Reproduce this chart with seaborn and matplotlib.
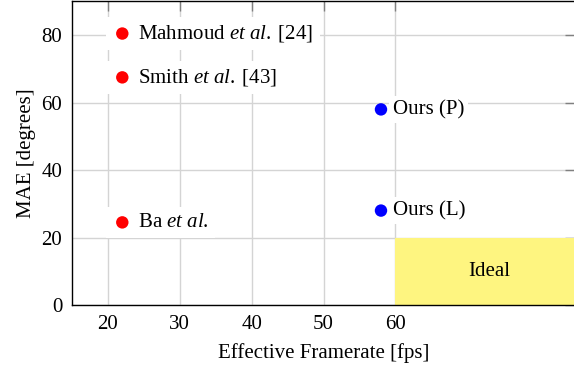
import matplotlib
matplotlib.use("Agg")
import matplotlib.pyplot as plt
import pandas as pd
import seaborn as sns

# Methods compared: effective framerate vs. mean angular error
methods = ["Mahmoud", "Smith", "Ba", "Ours (P)", "Ours (L)"]
labels = [
    r"     Mahmoud $\mathit{et\ al.}\;$[24]",
    r"     Smith $\mathit{et\ al.}\;$[43]",
    r"     Ba $\mathit{et\ al.}$",
    "Ours (P)",
    "Ours (L)",
]
framerate = [22, 22, 22, 58, 58]
mae = [80.5, 67.5, 24.5, 58, 28]
group = ["prior", "prior", "prior", "ours", "ours"]

# Target region
ideal_x = [60, 86]
ideal_y = [0, 20]

x_ticks = [20, 30, 40, 50, 60]
y_ticks = [0, 20, 40, 60, 80]

df = pd.DataFrame({"method": methods, "label": labels, "fps": framerate,
                   "mae": mae, "group": group})

sns.set_style("white")
plt.rcParams["font.family"] = ["Liberation Serif", "DejaVu Serif"]
plt.rcParams["mathtext.fontset"] = "custom"
plt.rcParams["mathtext.rm"] = "Liberation Serif"
plt.rcParams["mathtext.it"] = "Liberation Serif:italic"
plt.rcParams["text.color"] = "black"
plt.rcParams["axes.labelcolor"] = "black"
plt.rcParams["xtick.color"] = "black"
plt.rcParams["ytick.color"] = "black"

FS = 15

fig = plt.figure(figsize=(5.74, 3.72), dpi=100)
ax = fig.add_axes([72 / 574, 67 / 372, 503 / 574, 303.5 / 372])

ax.set_xlim(15, 85)
ax.set_ylim(0, 90)
ax.set_xticks(x_ticks)
ax.set_yticks(y_ticks)
ax.grid(True, color="#d4d4d4", linewidth=1.0, zorder=0)
ax.set_axisbelow(True)

# Ideal region
ax.fill_between(ideal_x, ideal_y[0], ideal_y[1], color="#fef580", zorder=1,
                linewidth=0)
ax.text((ideal_x[0] + ideal_x[1]) / 2, (ideal_y[0] + ideal_y[1]) / 2, "Ideal",
        ha="center", va="center", fontsize=FS, color="black", zorder=2)

sns.scatterplot(data=df, x="fps", y="mae", hue="group",
                palette={"prior": "#ff0000", "ours": "#0000ff"},
                s=80, edgecolor="none", legend=False, ax=ax, zorder=5)

for _, row in df.iterrows():
    if row["group"] == "prior":
        off, pad = -7.2, 0.3
    else:
        off, pad = 8.6, 0.2
    ax.annotate(row["label"], xy=(row["fps"], row["mae"]),
                xytext=(off, 0), textcoords="offset points",
                ha="left", va="center", fontsize=FS, color="black", zorder=4,
                bbox=dict(boxstyle=f"square,pad={pad}", fc="white", ec="none"))

ax.tick_params(axis="both", which="major", direction="in", length=7,
               width=1.0, color="#808080", labelsize=FS, labelcolor="black",
               top=True, right=True, pad=7)

for sp in ax.spines.values():
    sp.set_color("black")
    sp.set_linewidth(1.0)
    sp.set_zorder(6)

ax.set_xlabel("Effective Framerate [fps]", fontsize=FS, color="black")
ax.set_ylabel("MAE [degrees]", fontsize=FS, color="black")
ax.xaxis.set_label_coords(0.5, -0.125)
ax.yaxis.set_label_coords(-0.072, 0.5)

fig.savefig("out.png", dpi=100)
